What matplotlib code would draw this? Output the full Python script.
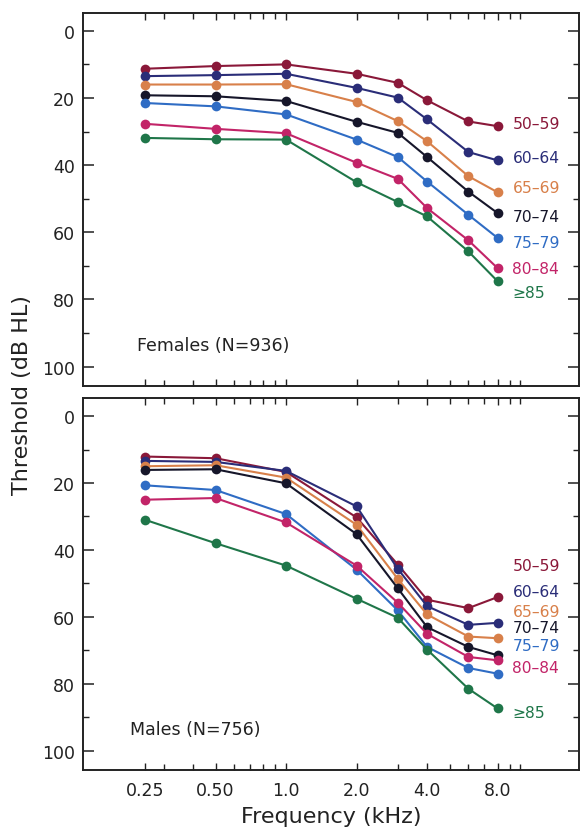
import numpy as np
import matplotlib
matplotlib.use('Agg')
import matplotlib.pyplot as plt
import matplotlib.ticker as mticker

plt.rcParams['font.family'] = ['DejaVu Sans']

# ── Data (thresholds in dB HL) ─────────────────────────────────────────────
freqs = [0.25, 0.5, 1.0, 2.0, 3.0, 4.0, 6.0, 8.0]
age_groups = ['50–59', '60–64', '65–69', '70–74', '75–79', '80–84', '≥85']
colors = ['#8a1839', '#2a2d78', '#d8804a', '#16162a', '#2f6cc4', '#c22468', '#1f7649']

females = {
    '50–59': [11.3, 10.5, 10.0, 12.8, 15.5, 20.7, 27.0, 28.4],
    '60–64': [13.5, 13.2, 12.8, 17.0, 19.9, 26.4, 36.1, 38.6],
    '65–69': [16.0, 16.0, 15.9, 21.2, 26.9, 32.9, 43.3, 48.1],
    '70–74': [19.2, 19.5, 20.9, 27.1, 30.4, 37.6, 47.9, 54.3],
    '75–79': [21.5, 22.5, 24.9, 32.4, 37.6, 44.9, 54.8, 61.7],
    '80–84': [27.7, 29.2, 30.5, 39.3, 44.1, 52.8, 62.4, 70.7],
    '≥85':   [31.9, 32.3, 32.4, 45.1, 51.0, 55.3, 65.7, 74.6],
}
males = {
    '50–59': [12.1, 12.6, 16.7, 30.3, 44.4, 54.9, 57.4, 54.1],
    '60–64': [13.4, 13.7, 16.4, 27.0, 45.7, 56.8, 62.4, 61.8],
    '65–69': [15.0, 14.7, 18.4, 32.5, 48.7, 59.3, 65.9, 66.4],
    '70–74': [16.1, 15.9, 20.1, 35.3, 51.5, 63.1, 69.0, 71.5],
    '75–79': [20.7, 22.1, 29.3, 45.9, 58.1, 69.0, 75.3, 77.0],
    '80–84': [25.0, 24.5, 31.8, 44.7, 55.8, 65.1, 72.0, 73.0],
    '≥85':   [31.0, 38.0, 44.7, 54.6, 60.3, 69.8, 81.5, 87.4],
}

# label y positions (data units) at the right end of each panel
female_label_y = [27.5, 37.8, 46.8, 55.2, 63.0, 70.8, 78.0]
male_label_y = [44.6, 52.4, 58.4, 63.2, 68.6, 75.0, 88.5]

tick_freqs = [0.25, 0.5, 1.0, 2.0, 4.0, 8.0]
tick_labels = ['0.25', '0.50', '1.0', '2.0', '4.0', '8.0']

fig = plt.figure(figsize=(5.81, 8.29), dpi=100)
ax_top = fig.add_axes([0.1423, 0.5335, 0.8543, 0.4496])
ax_bot = fig.add_axes([0.1423, 0.0703, 0.8543, 0.4480])


def style_axis(ax, show_xlabels):
    ax.set_xscale('log')
    ax.set_xlim(0.1355, 17.8)
    ax.set_ylim(105.7, -5.3)
    ax.set_yticks([0, 20, 40, 60, 80, 100])
    ax.yaxis.set_minor_locator(mticker.MultipleLocator(10))
    ax.xaxis.set_major_locator(mticker.FixedLocator(tick_freqs))
    ax.xaxis.set_minor_locator(mticker.FixedLocator(
        [0.3, 0.4, 0.6, 0.7, 0.8, 0.9, 3, 5, 6, 7, 9, 10]))
    ax.xaxis.set_minor_formatter(mticker.NullFormatter())
    if show_xlabels:
        ax.set_xticklabels(tick_labels)
    else:
        ax.xaxis.set_major_formatter(mticker.NullFormatter())
    ax.tick_params(which='both', direction='in', top=True, right=True,
                   colors='#222222', labelsize=12.5, labelcolor='#222222')
    ax.tick_params(axis='y', which='major', length=8, width=1.1, pad=5.5)
    ax.tick_params(axis='y', which='minor', length=4, width=1.0)
    ax.tick_params(axis='x', which='major', length=5, width=1.0, pad=8)
    ax.tick_params(axis='x', which='minor', length=4, width=1.0)
    for sp in ax.spines.values():
        sp.set_linewidth(1.4)
        sp.set_color('#222222')


def draw_panel(ax, data, label_y, title, title_x):
    for grp, col, ly in zip(age_groups, colors, label_y):
        ax.plot(freqs, data[grp], color=col, lw=1.5, marker='o',
                markersize=7, markeredgewidth=0)
        ax.text(9.25, ly, grp, color=col, fontsize=11.2, va='center', ha='left')
    ax.text(title_x, 93.5, title, fontsize=12.5, color='#222222',
            va='center', ha='left')


style_axis(ax_top, False)
style_axis(ax_bot, True)
draw_panel(ax_top, females, female_label_y, 'Females (N=936)', 0.231)
draw_panel(ax_bot, males, male_label_y, 'Males (N=756)', 0.2156)

ax_bot.set_xlabel('Frequency (kHz)', fontsize=16, color='#222222', labelpad=5)
fig.text(0.038, 0.523, 'Threshold (dB HL)', rotation=90, fontsize=16,
         color='#222222', ha='center', va='center')

fig.savefig('out.png', dpi=100)
